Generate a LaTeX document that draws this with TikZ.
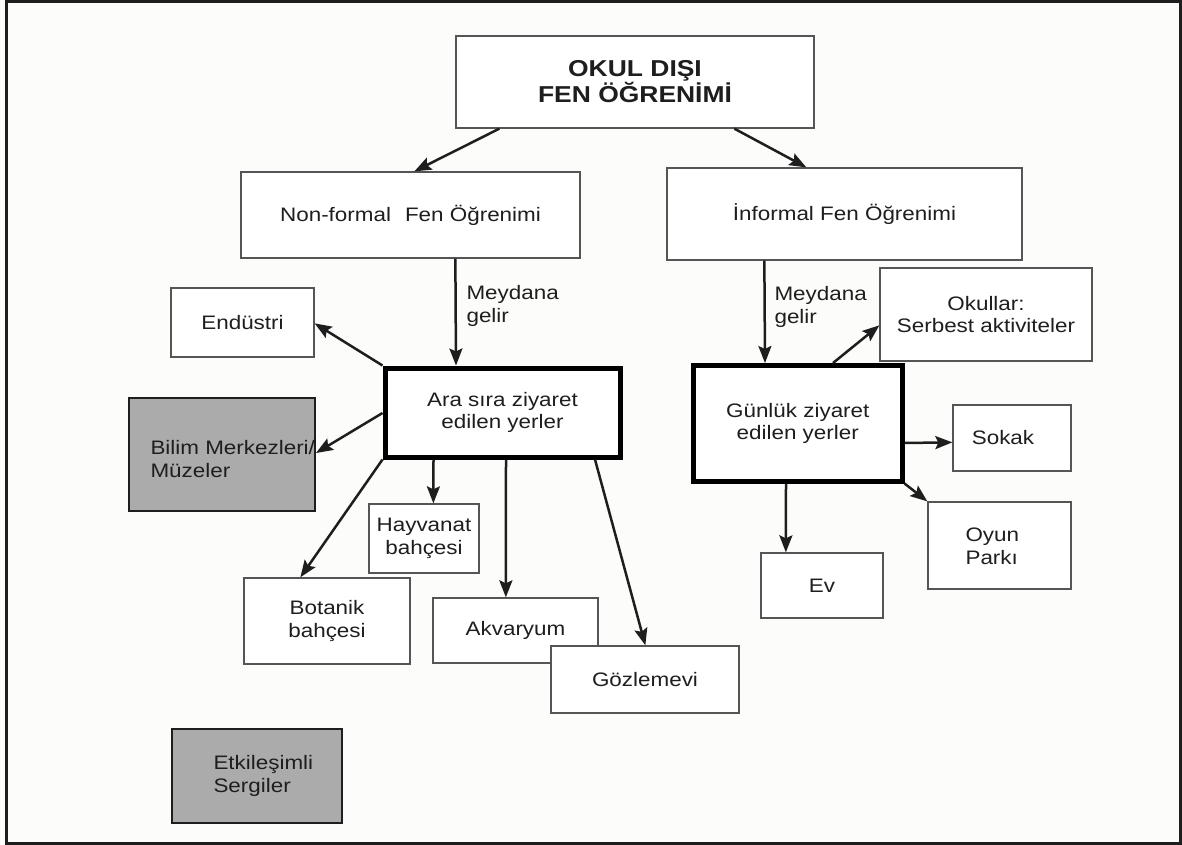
\documentclass[tikz,border=0pt]{standalone}
\usepackage{fontspec}
\setmainfont{Liberation Sans}[FakeStretch=1.15]
\usetikzlibrary{arrows.meta,calc}
\definecolor{ink}{HTML}{1E1E1E}
\definecolor{edge}{HTML}{555555}
\definecolor{shade}{HTML}{ABABAB}
\definecolor{paper}{HTML}{FCFCFA}

\begin{document}
\begin{tikzpicture}[x=1pt,y=-1pt,
  txt/.style={font=\fontsize{19.5}{22.5}\selectfont, text=ink, align=center},
  box/.style={draw=edge, line width=1.3pt, fill=white, inner sep=0pt, txt},
  graybox/.style={draw=ink, line width=2pt, fill=shade, inner sep=0pt},
  hub/.style={draw=black, line width=5pt, fill=white, inner sep=0pt, txt},
  arr/.style={draw=ink, line width=2.5pt, -{Stealth[length=17pt,width=13pt,inset=3pt]}},
  sz/.style 2 args={minimum width=#1pt, minimum height=#2pt}
]
% page and outer frame
\fill[paper] (0,0) rectangle (1182,845);
\useasboundingbox (0,0) rectangle (1182,845);
\draw[ink, line width=3pt] (6.5,1.5) rectangle (1180.5,843.5);

% title
\node[box, sz={358}{92}, font=\bfseries\fontsize{23}{25}\selectfont] (title) at (635,82)
  {OKUL DIŞI\\FEN ÖĞRENİMİ};

% second level
\node[box, sz={339}{86}] (nonf) at (410.5,215) {Non-formal\hspace{14pt}Fen Öğrenimi};
\node[box, sz={355}{92}] (inf) at (844.5,214) {İnformal Fen Öğrenimi};

% hubs
\node[hub, sz={235}{89}] (ara) at (502.5,412.5) {Ara sıra ziyaret\\edilen yerler};
\node[hub, sz={208.5}{115.5}] (gun) at (797.75,423.25) {Günlük ziyaret\\edilen yerler};

% places visited now and then
\node[box, sz={143}{69}] (endu) at (242.5,322.5) {Endüstri};
\node[graybox, sz={186}{113}] (bilim) at (222,454.5) {};
\node[txt, align=left, anchor=base west] (bilimtxt) at (147,477) {Bilim Merkezleri/\\Müzeler};
\node[box, sz={110}{69}] (hay) at (424,538.5) {Hayvanat\\bahçesi};
\node[box, sz={166}{86}] (bot) at (327,621) {Botanik\\bahçesi};
\node[box, sz={165}{65}] (akv) at (515.5,630.5) {Akvaryum};
\node[box, sz={188}{67}] (goz) at (645,679.5) {Gözlemevi};

% places visited daily
\node[box, sz={212}{93}] (okul) at (986,314.5) {Okullar:\\Serbest aktiviteler};
\node[box, sz={118}{66}] (sok) at (1012,438) {};
\node[txt] (soktxt) at (1003,438) {Sokak};
\node[box, sz={143}{87}] (oyun) at (999.5,545.5) {};
\node[txt, align=left, anchor=base west] (oyuntxt) at (962,564) {Oyun\\Parkı};
\node[box, sz={122}{65}] (ev) at (822,585.5) {Ev};

% interactive exhibits
\node[graybox, sz={170}{94}] (etk) at (257,776) {};
\node[txt, align=left, anchor=base west] (etktxt) at (210,792) {Etkileşimli\\Sergiler};

% connector labels
\node[txt, align=left, anchor=base west] (lblL) at (463,322) {Meydana\\gelir};
\node[txt, align=left, anchor=base west] (lblR) at (771,323) {Meydana\\gelir};

% connectors
\draw[arr] ($(title.south west)+(44,0)$) -- ($(nonf.north west)+(174,0)$);
\draw[arr] ($(title.south west)+(279,0)$) -- ($(inf.north west)+(140,0)$);
\draw[arr] ($(nonf.south west)+(215,0)$) -- ($(ara.north west)+(73.5,0)$);
\draw[arr] ($(inf.south west)+(98,0)$) -- ($(gun.north west)+(74,0)$);

\draw[arr] (ara.north west) -- ($(endu.north east)+(0,36)$);
\draw[arr] ($(ara.north west)+(0,47.5)$) -- ($(bilim.north east)+(0,56)$);
\draw[arr] (ara.south west) -- ($(bot.north west)+(57,0)$);
\draw[arr] ($(ara.south west)+(51,0)$) -- ($(hay.north west)+(65,0)$);
\draw[arr] ($(ara.south west)+(123.5,0)$) -- ($(akv.north west)+(73.5,0)$);
\draw[arr] ($(ara.south west)+(212.5,0)$) -- ($(goz.north west)+(95,0)$);

\draw[arr] ($(gun.north west)+(142,0)$) -- ($(okul.north west)+(0,58)$);
\draw[arr] ($(gun.north east)+(0,80)$) -- ($(sok.north west)+(0,38)$);
\draw[arr] (gun.south east) -- (oyun.north west);
\draw[arr] ($(gun.south west)+(95,0)$) -- ($(ev.north west)+(25.5,0)$);
\end{tikzpicture}
\end{document}
